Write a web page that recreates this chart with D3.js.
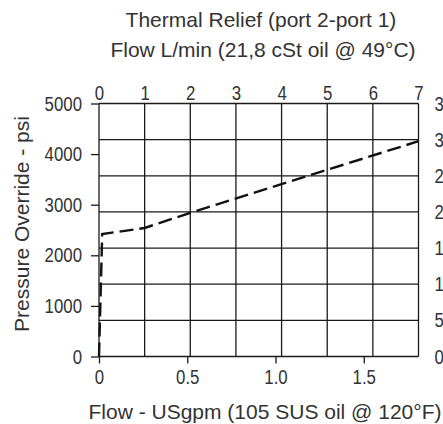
<!DOCTYPE html>
<html>
<head>
<meta charset="utf-8">
<script src="https://cdn.jsdelivr.net/npm/d3@7"></script>
<style>
	body { margin: 0; background: #fff; }
	svg { display: block; }
	.lbl { font-family: "Liberation Sans", Arial, sans-serif; font-size: 21px; fill: #333; }
	.tick text { font-family: "Liberation Sans", Arial, sans-serif; font-size: 20.5px; fill: #333; }
</style>
</head>
<body>
<div id="chart"></div>
<script>

let width = 443;
let height = 424;

// curve: flow in L/min, pressure override in psi
let flowLpm = [0, 0.07, 1, 2, 7];
let pressurePsi = [0, 2420, 2540, 2840, 4255];

// axes
let lpmTicks = [0, 1, 2, 3, 4, 5, 6, 7];
let gpmTicks = [0, 0.5, 1.0, 1.5];
let gpmLabels = ['0', '0.5', '1.0', '1.5'];
let psiTicks = [0, 1000, 2000, 3000, 4000, 5000];
let barTicks = [0, 50, 100, 150, 200, 250, 300, 350];

let plot = { left: 99, right: 418.5, top: 103.5, bottom: 356.5 };
let squeeze = 0.82; // tick digits are a condensed face in the original

let x = d3.scaleLinear().domain([0, 7]).range([plot.left, plot.right]);
let xGpm = d3.scaleLinear().domain([0, 1.81]).range([plot.left, plot.right]);
let y = d3.scaleLinear().domain([0, 5000]).range([plot.bottom, plot.top]);
let yBar = d3.scaleLinear().domain([0, 350]).range([plot.bottom, plot.top]);

let svg = d3.select('#chart')
	.append('svg')
	.attr('width', width)
	.attr('height', height);

// grid: vertical lines at L/min, horizontal at bar
let grid = svg.append('g').attr('stroke', '#1a1a1a').attr('stroke-width', 1.3);

grid.selectAll('.v')
	.data(lpmTicks)
	.join('line')
	.attr('x1', d => x(d)).attr('x2', d => x(d))
	.attr('y1', plot.top).attr('y2', plot.bottom);

grid.selectAll('.h')
	.data(barTicks)
	.join('line')
	.attr('x1', plot.left).attr('x2', plot.right)
	.attr('y1', d => yBar(d)).attr('y2', d => yBar(d));

// top axis, L/min
let axTop = svg.append('g')
	.attr('transform', `translate(0,${plot.top})`)
	.call(d3.axisTop(x).tickValues(lpmTicks).tickSize(0).tickPadding(4).tickFormat(d3.format('d')));

// bottom axis, USgpm
let axBottom = svg.append('g')
	.attr('transform', `translate(0,${plot.bottom})`)
	.call(d3.axisBottom(xGpm).tickValues(gpmTicks).tickSize(7).tickPadding(6).tickFormat((d, i) => gpmLabels[i]));

// left axis, psi
let axLeft = svg.append('g')
	.attr('transform', `translate(${plot.left},0)`)
	.call(d3.axisLeft(y).tickValues(psiTicks).tickSize(8).tickPadding(9).tickFormat(d3.format('d')));

// right axis, bar (cut by the page edge, as in the original)
let axRight = svg.append('g')
	.attr('transform', `translate(${plot.right},0)`)
	.call(d3.axisRight(yBar).tickValues(barTicks).tickSize(0).tickPadding(16).tickFormat(d3.format('d')));

[axTop, axBottom, axLeft, axRight].forEach(g => {
	g.select('.domain').remove();
	g.selectAll('.tick line').attr('stroke', '#1a1a1a').attr('stroke-width', 1.3);
	g.selectAll('.tick text')
		.attr('x', function() { return (+this.getAttribute('x') || 0) / squeeze; })
		.attr('transform', `scale(${squeeze},1)`);
});

// curve
let line = d3.line()
	.x((d, i) => x(flowLpm[i]))
	.y(d => y(d));

svg.append('path')
	.attr('d', line(pressurePsi))
	.attr('fill', 'none')
	.attr('stroke', '#111')
	.attr('stroke-width', 2.4)
	.attr('stroke-dasharray', '14,6');

// titles
svg.append('text').attr('class', 'lbl')
	.attr('x', 261).attr('y', 27).attr('text-anchor', 'middle')
	.text('Thermal Relief (port 2-port 1)');

svg.append('text').attr('class', 'lbl')
	.attr('x', 263).attr('y', 57).attr('text-anchor', 'middle')
	.text('Flow L/min (21,8 cSt oil @ 49°C)');

svg.append('text').attr('class', 'lbl')
	.attr('x', 265).attr('y', 419).attr('text-anchor', 'middle')
	.text('Flow - USgpm (105 SUS oil @ 120°F)');

svg.append('text').attr('class', 'lbl')
	.attr('transform', 'translate(29,224) rotate(-90)')
	.attr('text-anchor', 'middle')
	.text('Pressure Override - psi');

</script>
</body>
</html>
